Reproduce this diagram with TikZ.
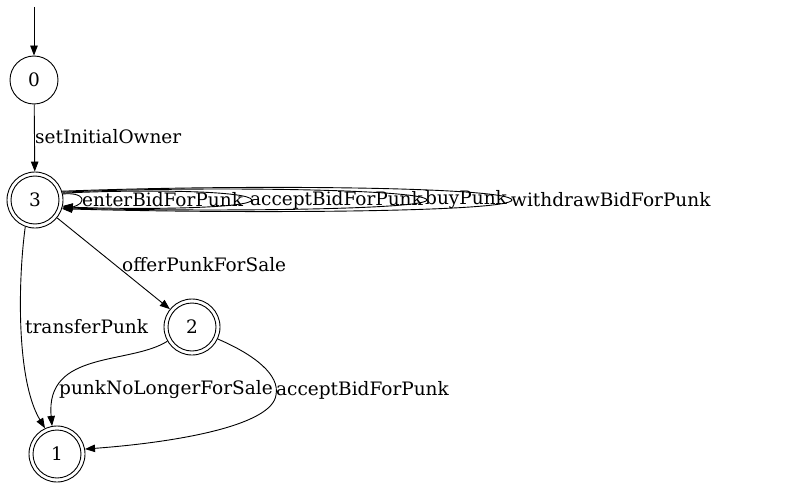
\documentclass[tikz,border=0pt]{standalone}
\usepackage{fontspec}
\setmainfont{DejaVu Serif}
\usetikzlibrary{arrows.meta}
\begin{document}
\begin{tikzpicture}[x=1pt,y=-1pt,
  every node/.style={font=\fontsize{18.5}{20}\selectfont, inner sep=0pt},
  state/.style={circle, draw, line width=0.9pt, minimum size=48pt},
  accstate/.style={circle, draw, line width=0.9pt, minimum size=56pt,
     path picture={\draw[line width=0.9pt] (path picture bounding box.center) circle[radius=24pt];}},
  edge/.style={draw, line width=0.9pt, -{Triangle[length=10pt,width=7.5pt]}},
  lbl/.style={anchor=west}]
\path[use as bounding box] (0,0) rectangle (791,489);
\fill[white] (0,0) rectangle (791,489);

\node[state] (n0) at (34,80) {0};
\node[accstate] (n3) at (35,200) {3};
\node[accstate] (n2) at (192,327) {2};
\node[accstate] (n1) at (57,454) {1};
\coordinate (start) at (34,7);

\path[edge] (start) -- (n0);
\path[edge] (n0) -- (n3);
\node[lbl] (l03) at (35,137) {setInitialOwner};

% self loops on 3
\path[edge] (n3.12) .. controls (70,193) and (82,194) .. (82,200) .. controls (82,205) and (72,207) .. (n3.-12);
\path[edge] (n3.14) .. controls (150,189) and (250,191) .. (252,200) .. controls (250,208) and (150,210) .. (n3.-14);
\path[edge] (n3.16) .. controls (200,186) and (425,189) .. (427,200) .. controls (425,210) and (200,212) .. (n3.-16);
\path[edge] (n3.18) .. controls (250,184) and (510,187) .. (512,200) .. controls (510,212) and (250,214) .. (n3.-18);
\node[lbl] (le) at (82,200) {enterBidForPunk};
\node[lbl] (la) at (250,200) {acceptBidForPunk};
\node[lbl] (lb) at (425,200) {buyPunk};
\node[lbl] (lw) at (511,200) {withdrawBidForPunk};

\path[edge] (n3) -- (n2);
\node[lbl] (l32) at (122,265) {offerPunkForSale};

\path[edge] (n3.250) .. controls (18,280) and (16,380) .. (n1.115);
\node[lbl] (l31) at (25,327) {transferPunk};

\path[edge] (n2.210) .. controls (130,365) and (45,350) .. (n1.100);
\node[lbl] (l21a) at (59,390) {punkNoLongerForSale};

\path[edge] (n2.-25) .. controls (255,355) and (280,375) .. (276,395) .. controls (272,425) and (180,442) .. (n1.10);
\node[lbl] (l21b) at (276,390) {acceptBidForPunk};
\end{tikzpicture}
\end{document}
